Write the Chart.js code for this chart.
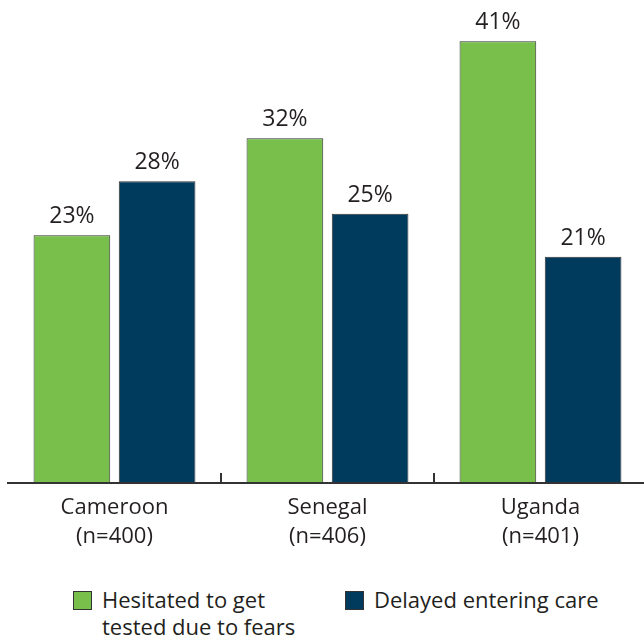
<!DOCTYPE html>
<html lang="en">
<head>
<meta charset="UTF-8">
<title>Fear and HIV testing</title>
<script src="https://cdn.jsdelivr.net/npm/chart.js"></script>
<style>
  body {
    margin: 0;
    padding: 0;
    background: #ffffff;
    overflow: hidden;
    font-family: "Open Sans", Arial, sans-serif;
    color: #231f20;
  }
  .wrap {
    position: relative;
    width: 647px;
    height: 643px;
  }
  .chart-box {
    position: absolute;
    left: 0;
    top: 0;
    width: 647px;
    height: 563px;
  }
  .legend {
    position: absolute;
    top: 586px;
    left: 0;
    width: 644px;
  }
  .legend .item {
    position: absolute;
    top: 0;
    font-size: 22px;
    line-height: 27px;
  }
  .legend .swatch {
    position: absolute;
    left: 0;
    top: 5px;
    width: 19px;
    height: 19px;
    border: 1px solid #333;
    box-sizing: border-box;
  }
  .legend .text {
    margin-left: 29px;
  }
</style>
</head>
<body>
<div class="wrap">
  <div class="chart-box"><canvas id="fearChart"></canvas></div>
  <div class="legend" id="legend"></div>
</div>

<script>
var countries = [['Cameroon', '(n=400)'], ['Senegal', '(n=406)'], ['Uganda', '(n=401)']];
var hesitated = [23, 32, 41];
var delayed = [28, 25, 21];
var seriesNames = [['Hesitated to get', 'tested due to fears'], ['Delayed entering care']];
var seriesColors = ['#79bf4c', '#003a5c'];
var legendLeft = [73, 345];

// percentages above each bar
var valueLabels = {
  id: 'valueLabels',
  afterDatasetsDraw: function(chart) {
    var ctx = chart.ctx;
    ctx.save();
    ctx.font = '23px "Open Sans", Arial, sans-serif';
    ctx.fillStyle = '#231f20';
    ctx.textAlign = 'center';
    ctx.textBaseline = 'alphabetic';
    chart.data.datasets.forEach(function(ds, i) {
      chart.getDatasetMeta(i).data.forEach(function(bar, j) {
        ctx.fillText(ds.data[j] + '%', bar.x, bar.y - 12);
      });
    });
    ctx.restore();
  }
};

// short upward ticks between the country groups
var groupTicks = {
  id: 'groupTicks',
  afterDraw: function(chart) {
    var x = chart.scales.x;
    var ctx = chart.ctx;
    var bottom = chart.chartArea.bottom;
    ctx.save();
    ctx.strokeStyle = '#333333';
    ctx.lineWidth = 2;
    for (var i = 1; i < countries.length; i++) {
      var px = Math.round((x.getPixelForTick(i - 1) + x.getPixelForTick(i)) / 2);
      ctx.beginPath();
      ctx.moveTo(px, bottom);
      ctx.lineTo(px, bottom - 10);
      ctx.stroke();
    }
    ctx.restore();
  }
};

var ctx = document.getElementById('fearChart').getContext('2d');
var fearChart = new Chart(ctx, {
  type: 'bar',
  data: {
    labels: countries,
    datasets: [{
      label: seriesNames[0].join(' '),
      data: hesitated,
      backgroundColor: seriesColors[0],
      borderColor: '#333333',
      borderWidth: 1,
      borderSkipped: false
    }, {
      label: seriesNames[1].join(' '),
      data: delayed,
      backgroundColor: seriesColors[1],
      borderColor: '#333333',
      borderWidth: 1,
      borderSkipped: false
    }]
  },
  options: {
    responsive: true,
    maintainAspectRatio: false,
    animation: false,
    events: [],
    layout: {
      padding: { left: 8, right: 0, top: 9, bottom: 0 }
    },
    datasets: {
      bar: { categoryPercentage: 0.8, barPercentage: 0.9 }
    },
    plugins: {
      legend: { display: false },
      tooltip: { enabled: false }
    },
    scales: {
      x: {
        grid: { display: false, drawTicks: false },
        border: { display: true, color: '#333333', width: 2 },
        ticks: {
          padding: 10,
          color: '#231f20',
          font: { family: '"Open Sans", Arial, sans-serif', size: 22, lineHeight: 1.32 }
        },
        afterFit: function(scale) { scale.height = 80; }
      },
      y: {
        display: false,
        min: 0,
        max: 44
      }
    }
  },
  plugins: [valueLabels, groupTicks]
});

// legend under the chart, built from the series arrays
var legend = document.getElementById('legend');
seriesNames.forEach(function(lines, i) {
  var item = document.createElement('div');
  item.className = 'item';
  item.style.left = legendLeft[i] + 'px';
  var sw = document.createElement('div');
  sw.className = 'swatch';
  sw.style.background = seriesColors[i];
  var tx = document.createElement('div');
  tx.className = 'text';
  tx.innerHTML = lines.join('<br>');
  item.appendChild(sw);
  item.appendChild(tx);
  legend.appendChild(item);
});
</script>
</body>
</html>
